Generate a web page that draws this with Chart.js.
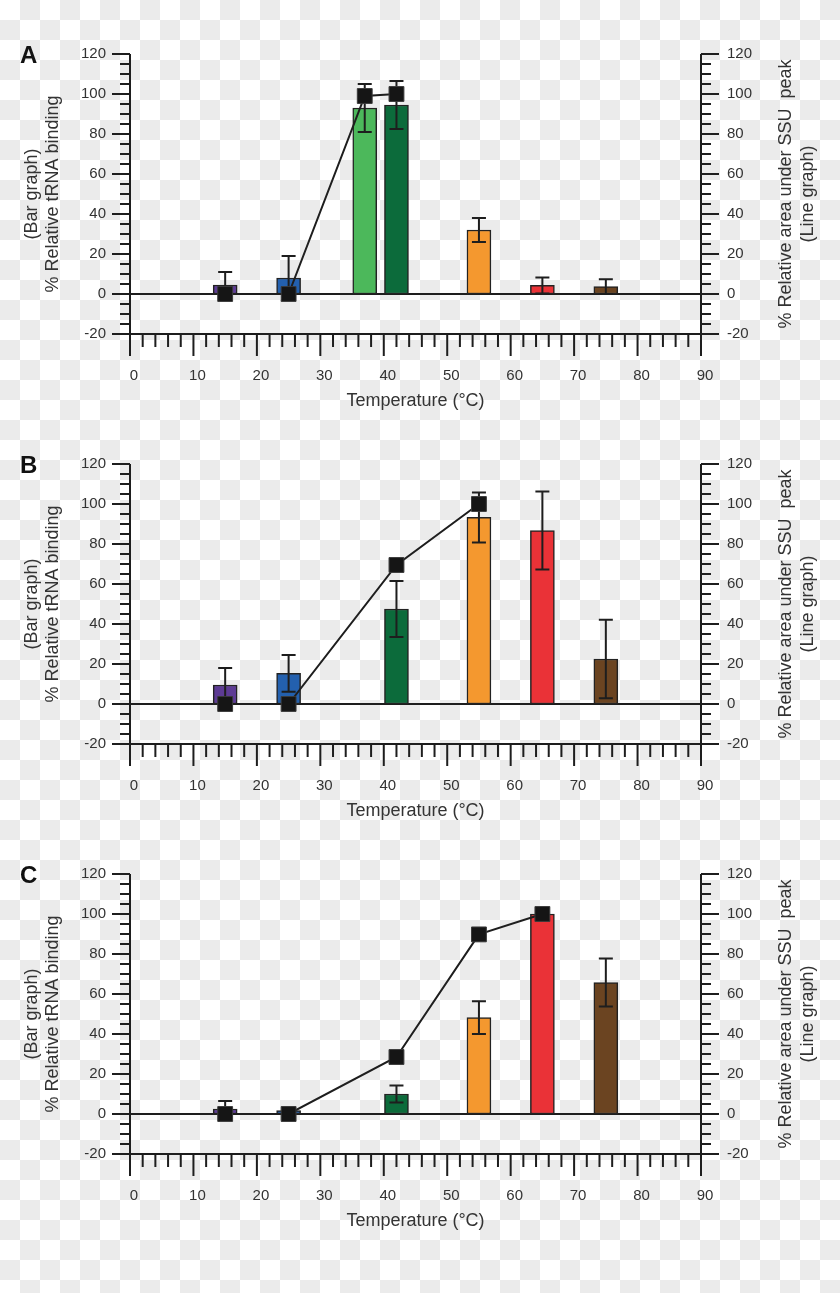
<!DOCTYPE html>
<html>
<head>
<meta charset="utf-8">
<script src="https://cdn.jsdelivr.net/npm/chart.js@4.4.1/dist/chart.umd.min.js"></script>
<style>
  html, body { margin: 0; padding: 0; }
  body {
    width: 840px; height: 1293px; position: relative; overflow: hidden;
    background-color: #fff;
    background-image: conic-gradient(#ebebeb 0 25%, #fff 0 50%, #ebebeb 0 75%, #fff 0);
    background-size: 40px 40px;
  }
  canvas { position: absolute; left: 0; }
</style>
</head>
<body>
<canvas id="chartA" width="840" height="410" style="top:0px"></canvas>
<canvas id="chartB" width="840" height="410" style="top:410px"></canvas>
<canvas id="chartC" width="840" height="410" style="top:820px"></canvas>
<script>
// ---------------- DATA ----------------
const panelLetters = ['A', 'B', 'C'];
const xTickLabels = ['0', '10', '20', '30', '40', '50', '60', '70', '80', '90'];
const yTickLabels = ['-20', '0', '20', '40', '60', '80', '100', '120'];

// Panel A
const barTempsA  = [15, 25, 37, 42, 55, 65, 75];
const barValuesA = [4.5, 8, 93, 94.5, 32, 4.3, 3.7];
const barErrorsA = [6.5, 11, 12, 12, 6, 4, 3.7];
const lineTempsA  = [15, 25, 37, 42];
const lineValuesA = [0, 0, 99, 100];

// Panel B
const barTempsB  = [15, 25, 42, 55, 65, 75];
const barValuesB = [9.5, 15.3, 47.5, 93.3, 86.7, 22.5];
const barErrorsB = [8.5, 9.2, 14, 12.5, 19.5, 19.6];
const lineTempsB  = [15, 25, 42, 55];
const lineValuesB = [0, 0, 69.5, 100];

// Panel C
const barTempsC  = [15, 25, 42, 55, 65, 75];
const barValuesC = [2.5, 1.7, 10, 48.2, 100, 65.7];
const barErrorsC = [4, 1.5, 4.3, 8.2, 3, 12];
const lineTempsC  = [15, 25, 42, 55, 65];
const lineValuesC = [0, 0, 28.5, 89.8, 100];

// ---------------- STYLE ----------------
const barColorByTemp = {
  15: '#5d3b94', 25: '#2360ae', 37: '#4cb85b', 42: '#0c6b3b',
  55: '#f4982f', 65: '#ea3237', 75: '#6b4421'
};
const FONT = "'Liberation Sans', Arial, Helvetica, sans-serif";
const TEXT = '#333333';
const INK = '#1e1e1e';

const axesPlugin = {
  id: 'customAxes',
  beforeDatasetsDraw(chart) {
    const { ctx, chartArea: a, scales } = chart;
    const x = scales.x, y = scales.y;
    ctx.save();
    ctx.strokeStyle = INK;
    ctx.lineWidth = 2;
    ctx.lineCap = 'butt';
    ctx.beginPath();
    ctx.moveTo(a.left, a.top); ctx.lineTo(a.left, a.bottom);
    ctx.moveTo(a.right, a.top); ctx.lineTo(a.right, a.bottom);
    ctx.moveTo(a.left - 1, a.bottom); ctx.lineTo(a.right + 1, a.bottom);
    const y0 = y.getPixelForValue(0);
    ctx.moveTo(a.left, y0); ctx.lineTo(a.right, y0);
    for (let v = y.min; v <= y.max + 0.001; v += 5) {
      const py = y.getPixelForValue(v);
      const len = (Math.round(v) % 20 === 0) ? 18 : 10;
      ctx.moveTo(a.left - len, py); ctx.lineTo(a.left, py);
      ctx.moveTo(a.right, py); ctx.lineTo(a.right + len, py);
    }
    for (let v = x.min; v <= x.max + 0.001; v += 2) {
      const px = x.getPixelForValue(v);
      const len = (Math.round(v) % 10 === 0) ? 22 : 13;
      ctx.moveTo(px, a.bottom); ctx.lineTo(px, a.bottom + len);
    }
    ctx.stroke();
    ctx.restore();
  },
  afterDatasetDraw(chart, args) {
    const ds = chart.data.datasets[args.index];
    if (!ds.errorBars) return;
    const { ctx } = chart;
    const y = chart.scales[ds.yAxisID || 'y'];
    ctx.save();
    ctx.strokeStyle = INK;
    ctx.lineWidth = 2;
    ctx.beginPath();
    args.meta.data.forEach((el, i) => {
      const v = ds.data[i].y, e = ds.errorBars[i];
      const px = el.x;
      const yt = y.getPixelForValue(v + e), yb = y.getPixelForValue(v - e);
      ctx.moveTo(px, yt); ctx.lineTo(px, yb);
      ctx.moveTo(px - 7, yt); ctx.lineTo(px + 7, yt);
      ctx.moveTo(px - 7, yb); ctx.lineTo(px + 7, yb);
    });
    ctx.stroke();
    ctx.restore();
  },
  afterDraw(chart, args, opts) {
    const { ctx, chartArea: a } = chart;
    ctx.save();
    ctx.fillStyle = '#111';
    ctx.font = 'bold 24px ' + FONT;
    ctx.textAlign = 'left';
    ctx.textBaseline = 'alphabetic';
    ctx.fillText(opts.letter, 20, 63);
    const cy = (a.top + a.bottom) / 2;
    ctx.fillStyle = TEXT;
    ctx.font = '18px ' + FONT;
    ctx.translate(786, cy);
    ctx.rotate(-Math.PI / 2);
    ctx.textAlign = 'center';
    ctx.textBaseline = 'middle';
    ctx.fillText('% Relative area under SSU  peak', 0, 0);
    ctx.fillText('(Line graph)', 0, 22);
    ctx.restore();
  }
};

function makeChart(id, letter, barTemps, barValues, barErrors, lineTemps, lineValues) {
  return new Chart(document.getElementById(id), {
    type: 'bar',
    data: {
      datasets: [
        {
          type: 'line',
          data: lineTemps.map((t, i) => ({ x: t, y: lineValues[i] })),
          xAxisID: 'x', yAxisID: 'y2',
          borderColor: INK, borderWidth: 2, tension: 0,
          pointStyle: 'rect', pointRadius: 10.5,
          pointBackgroundColor: '#151515', pointBorderColor: '#3a3a3a', pointBorderWidth: 1,
          order: 0, clip: false
        },
        {
          type: 'bar',
          data: barTemps.map((t, i) => ({ x: t, y: barValues[i] })),
          xAxisID: 'x', yAxisID: 'y',
          backgroundColor: barTemps.map(t => barColorByTemp[t]),
          borderColor: '#222', borderWidth: 1.5, borderSkipped: false,
          barThickness: 24, order: 1,
          errorBars: barErrors
        }
      ]
    },
    options: {
      responsive: false, animation: false,
      layout: { padding: { top: 54, left: 0, right: 0, bottom: 0 } },
      plugins: {
        legend: { display: false }, tooltip: { enabled: false },
        customAxes: { letter: letter }
      },
      scales: {
        x: {
          type: 'linear', position: 'bottom', min: 0, max: 90, offset: false,
          grid: { display: false, drawTicks: false, tickLength: 0 }, border: { display: false },
          ticks: { stepSize: 10, padding: 33, labelOffset: 4, color: TEXT, maxRotation: 0, autoSkip: false,
                   font: { family: FONT, size: 15 }, callback: (v, i) => xTickLabels[i] },
          title: { display: true, text: 'Temperature (°C)', color: TEXT,
                   font: { family: FONT, size: 18, lineHeight: 1.0 }, padding: { top: 0, bottom: 0 } },
          afterFit: s => { s.height = 76; }
        },
        y: {
          type: 'linear', position: 'left', min: -20, max: 120,
          grid: { display: false, drawTicks: false, tickLength: 0 }, border: { display: false },
          ticks: { stepSize: 20, padding: 24, color: TEXT, autoSkip: false,
                   font: { family: FONT, size: 15 }, callback: (v, i) => yTickLabels[i] },
          title: { display: true, text: ['(Bar graph)', '% Relative tRNA binding'], color: TEXT,
                   font: { family: FONT, size: 18, lineHeight: 1.2 }, padding: { top: 21, bottom: 0 } },
          afterFit: s => { s.width = 130; }
        },
        y2: {
          type: 'linear', position: 'right', min: -20, max: 120,
          grid: { display: false, drawTicks: false, tickLength: 0 }, border: { display: false },
          ticks: { stepSize: 20, padding: 26, color: TEXT, autoSkip: false,
                   font: { family: FONT, size: 15 }, callback: (v, i) => yTickLabels[i] },
          afterFit: s => { s.width = 139; }
        }
      }
    },
    plugins: [axesPlugin]
  });
}

makeChart('chartA', panelLetters[0], barTempsA, barValuesA, barErrorsA, lineTempsA, lineValuesA);
makeChart('chartB', panelLetters[1], barTempsB, barValuesB, barErrorsB, lineTempsB, lineValuesB);
makeChart('chartC', panelLetters[2], barTempsC, barValuesC, barErrorsC, lineTempsC, lineValuesC);
</script>
</body>
</html>
